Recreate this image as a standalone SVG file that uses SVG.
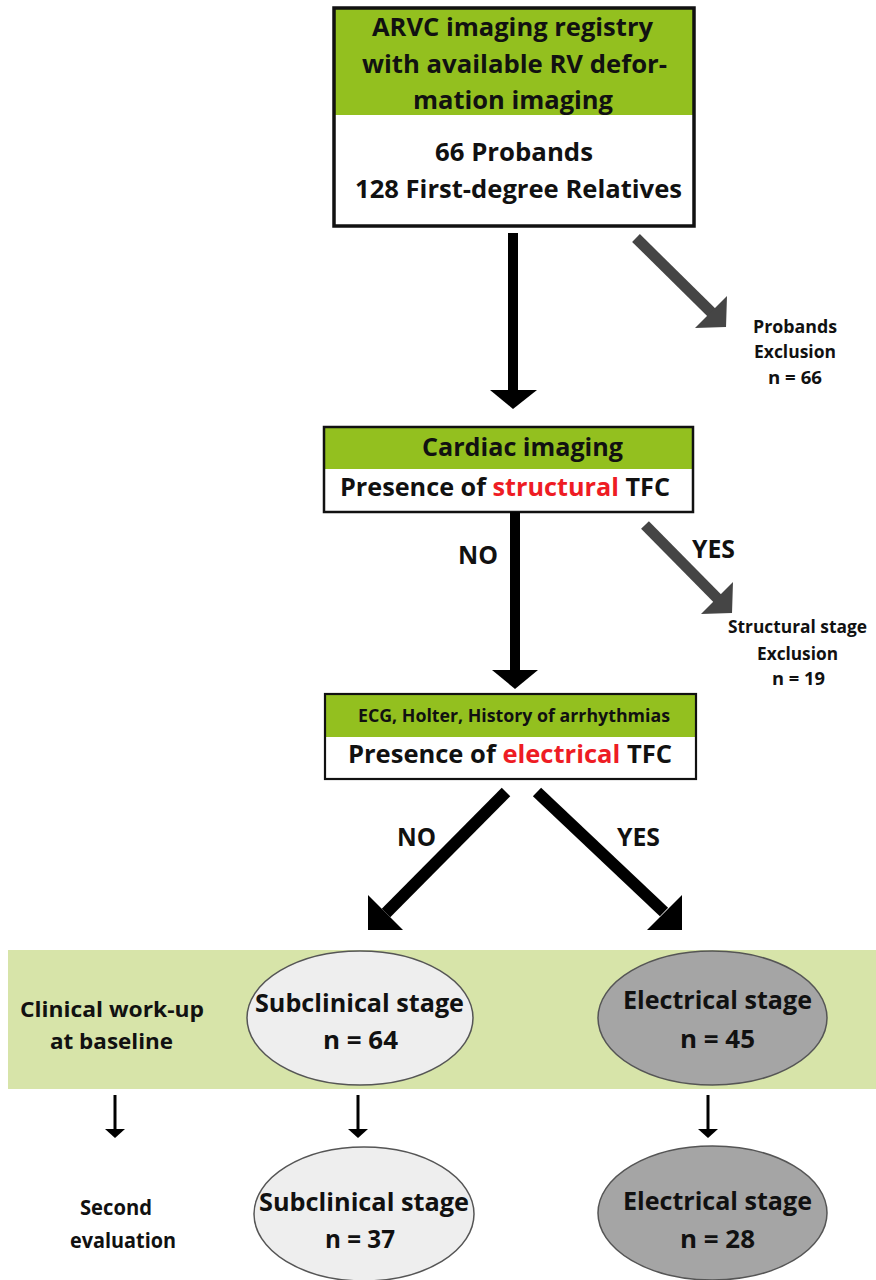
<svg xmlns="http://www.w3.org/2000/svg" width="876" height="1280" viewBox="0 0 876 1280">
<style>
text{font-family:"Open Sans","Noto Sans","Liberation Sans",sans-serif;font-weight:700;fill:#111;}
.t24{font-size:25.5px}
.t23{font-size:24.5px}
.t21{font-size:22px}
.t16{font-size:17px}
.red{fill:#ee1c24}
.hdr{fill:#93c01f}
.box{fill:none;stroke:#111}
.blk{fill:#000}
.gry{fill:#454545}
.sb{stroke:#000;stroke-width:12;fill:none}
.sg{stroke:#454545;stroke-width:11;fill:none}
.light{fill:#eeeeee;stroke:#555;stroke-width:1.5}
.dark{fill:#a5a5a5;stroke:#555;stroke-width:1.5}
</style>
<rect x="8" y="950" width="868" height="139" fill="#d7e4a9"/>
<g id="registry">
<rect x="334" y="8" width="360" height="218" fill="#fff"/>
<rect x="334" y="8" width="360" height="107" class="hdr"/>
<rect x="334" y="8" width="360" height="218" class="box" stroke-width="3.5"/>
<text class="t24" x="372" y="36" textLength="281" lengthAdjust="spacingAndGlyphs">ARVC imaging registry</text>
<text class="t24" x="362" y="73" textLength="305" lengthAdjust="spacingAndGlyphs">with available RV defor-</text>
<text class="t24" x="413" y="109" textLength="200" lengthAdjust="spacingAndGlyphs">mation imaging</text>
<text class="t24" x="435" y="161" textLength="158" lengthAdjust="spacingAndGlyphs">66 Probands</text>
<text class="t24" x="355" y="198" textLength="327" lengthAdjust="spacingAndGlyphs">128 First-degree Relatives</text>
</g>
<g id="probands-exclusion">
<text class="t16" x="753" y="333" textLength="84" lengthAdjust="spacingAndGlyphs">Probands</text>
<text class="t16" x="754" y="358" textLength="82" lengthAdjust="spacingAndGlyphs">Exclusion</text>
<text class="t16" x="768" y="384" textLength="54" lengthAdjust="spacingAndGlyphs">n = 66</text>
</g>
<g id="cardiac">
<rect x="324" y="427" width="369" height="85" fill="#fff"/>
<rect x="324" y="427" width="369" height="42" class="hdr"/>
<rect x="324" y="427" width="369" height="85" class="box" stroke-width="2.5"/>
<text class="t23" x="422" y="456" textLength="201" lengthAdjust="spacingAndGlyphs">Cardiac imaging</text>
<text class="t23" x="340" y="496" textLength="330" lengthAdjust="spacingAndGlyphs">Presence of <tspan class="red">structural</tspan> TFC</text>
</g>
<g id="structural-exclusion">
<text class="t16" x="728" y="633" textLength="139" lengthAdjust="spacingAndGlyphs">Structural stage</text>
<text class="t16" x="757" y="660" textLength="81" lengthAdjust="spacingAndGlyphs">Exclusion</text>
<text class="t16" x="772" y="685" textLength="53" lengthAdjust="spacingAndGlyphs">n = 19</text>
</g>
<g id="electrical">
<rect x="325" y="694" width="371" height="85" fill="#fff"/>
<rect x="325" y="694" width="371" height="43" class="hdr"/>
<rect x="325" y="694" width="371" height="85" class="box" stroke-width="2.2"/>
<text class="t16" x="358" y="722" textLength="312" lengthAdjust="spacingAndGlyphs">ECG, Holter, History of arrhythmias</text>
<text class="t23" x="348" y="763" textLength="324" lengthAdjust="spacingAndGlyphs">Presence of <tspan class="red">electrical</tspan> TFC</text>
</g>
<g id="baseline-label">
<text class="t21" x="20" y="1017" textLength="184" lengthAdjust="spacingAndGlyphs">Clinical work-up</text>
<text class="t21" x="50" y="1049" textLength="123" lengthAdjust="spacingAndGlyphs">at baseline</text>
</g>
<g id="subclinical-baseline">
<ellipse cx="360" cy="1018" rx="113" ry="67" class="light"/>
<text class="t23" x="255" y="1012" textLength="209" lengthAdjust="spacingAndGlyphs">Subclinical stage</text>
<text class="t23" x="323" y="1049" textLength="75" lengthAdjust="spacingAndGlyphs">n = 64</text>
</g>
<g id="electrical-baseline">
<ellipse cx="712.5" cy="1018" rx="114.5" ry="67" class="dark"/>
<text class="t23" x="623" y="1009" textLength="189" lengthAdjust="spacingAndGlyphs">Electrical stage</text>
<text class="t23" x="680" y="1048" textLength="75" lengthAdjust="spacingAndGlyphs">n = 45</text>
</g>
<g id="second-label">
<text class="t21" x="80" y="1215" textLength="72" lengthAdjust="spacingAndGlyphs">Second</text>
<text class="t21" x="70" y="1248" textLength="106" lengthAdjust="spacingAndGlyphs">evaluation</text>
</g>
<g id="subclinical-second">
<ellipse cx="364" cy="1214" rx="110" ry="67" class="light"/>
<text class="t23" x="259" y="1211" textLength="210" lengthAdjust="spacingAndGlyphs">Subclinical stage</text>
<text class="t23" x="325" y="1248" textLength="70" lengthAdjust="spacingAndGlyphs">n = 37</text>
</g>
<g id="electrical-second">
<ellipse cx="712.5" cy="1213" rx="114.5" ry="67" class="dark"/>
<text class="t23" x="623" y="1210" textLength="189" lengthAdjust="spacingAndGlyphs">Electrical stage</text>
<text class="t23" x="680" y="1248" textLength="75" lengthAdjust="spacingAndGlyphs">n = 28</text>
</g>
<g id="connectors">
<rect x="508" y="233" width="10" height="160" class="blk"/>
<polygon points="490,390 537,390 513,409" class="blk"/>
<line x1="636" y1="238" x2="712" y2="313" class="sg"/>
<polygon points="727,296 695,328 726,327" class="gry"/>
<rect x="510" y="512" width="10" height="162" class="blk"/>
<polygon points="492,670 538,670 515,689" class="blk"/>
<text class="t24" x="458" y="564" textLength="40" lengthAdjust="spacingAndGlyphs">NO</text>
<line x1="645" y1="525" x2="718" y2="599" class="sg"/>
<polygon points="733,582 701,614 732,613" class="gry"/>
<text class="t24" x="692" y="558" textLength="43" lengthAdjust="spacingAndGlyphs">YES</text>
<line x1="506" y1="792" x2="386" y2="913" class="sb"/>
<polygon points="368,895 403,930 368,930" class="blk"/>
<text class="t24" x="397" y="846" textLength="39" lengthAdjust="spacingAndGlyphs">NO</text>
<line x1="537" y1="792" x2="664" y2="912" class="sb"/>
<polygon points="682,895 647,930 682,930" class="blk"/>
<text class="t24" x="617" y="846" textLength="43" lengthAdjust="spacingAndGlyphs">YES</text>
<line x1="115" y1="1095" x2="115" y2="1131" stroke="#000" stroke-width="3"/>
<polygon points="105,1129 125,1129 115,1138" class="blk"/>
<line x1="358" y1="1095" x2="358" y2="1131" stroke="#000" stroke-width="3"/>
<polygon points="348,1129 368,1129 358,1138" class="blk"/>
<line x1="708" y1="1095" x2="708" y2="1131" stroke="#000" stroke-width="3"/>
<polygon points="698,1129 718,1129 708,1138" class="blk"/>
</g>
</svg>
